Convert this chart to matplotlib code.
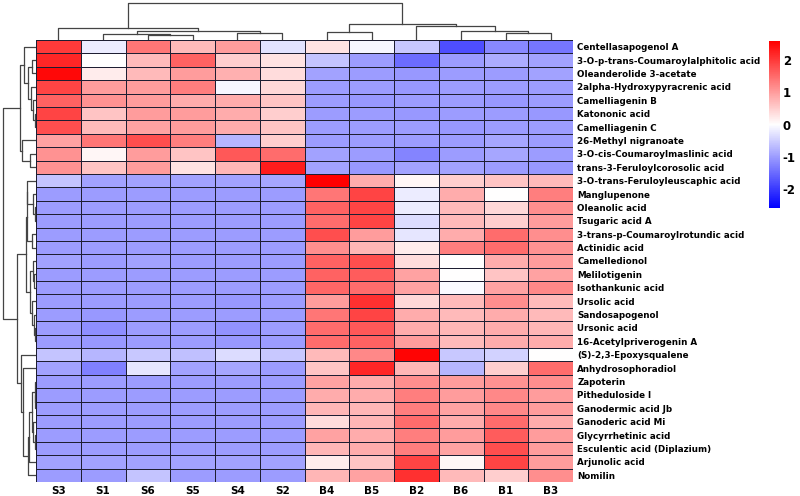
import numpy as np
import matplotlib
matplotlib.use('Agg')
import matplotlib.pyplot as plt

# Sample and compound names (in the clustered display order)
samples = ['S3', 'S1', 'S6', 'S5', 'S4', 'S2', 'B4', 'B5', 'B2', 'B6', 'B1', 'B3']

compounds = [
    'Centellasapogenol A', '3-O-p-trans-Coumaroylalphitolic acid', 'Oleanderolide 3-acetate',
    '2alpha-Hydroxypyracrenic acid', 'Camelliagenin B', 'Katononic acid', 'Camelliagenin C',
    '26-Methyl nigranoate', '3-O-cis-Coumaroylmaslinic acid', 'trans-3-Feruloylcorosolic acid',
    '3-O-trans-Feruloyleuscaphic acid', 'Manglupenone', 'Oleanolic acid', 'Tsugaric acid A',
    '3-trans-p-Coumaroylrotundic acid', 'Actinidic acid', 'Camelledionol', 'Melilotigenin',
    'Isothankunic acid', 'Ursolic acid', 'Sandosapogenol', 'Ursonic acid',
    '16-Acetylpriverogenin A', '(S)-2,3-Epoxysqualene', 'Anhydrosophoradiol', 'Zapoterin',
    'Pitheduloside I', 'Ganodermic acid Jb', 'Ganoderic acid Mi', 'Glycyrrhetinic acid',
    'Esculentic acid (Diplazium)', 'Arjunolic acid', 'Nomilin',
]

# row z-scores, columns follow `samples`
zscores = [
    [2.0, -0.2, 1.4, 0.7, 1.0, -0.3, 0.3, -0.1, -0.55, -1.8, -1.2, -1.4],
    [2.2, 0.0, 0.7, 1.6, 0.5, 0.3, -0.6, -1.0, -1.5, -1.0, -0.85, -0.95],
    [2.5, 0.2, 0.7, 1.0, 0.8, 0.35, -0.95, -1.0, -1.05, -1.0, -1.0, -0.95],
    [1.9, 1.0, 1.0, 1.3, -0.1, 0.4, -1.0, -1.0, -1.05, -1.0, -1.0, -1.0],
    [1.6, 1.1, 1.0, 0.85, 0.85, 0.6, -1.0, -1.05, -1.0, -1.0, -1.05, -1.0],
    [1.9, 0.6, 1.0, 1.0, 0.85, 0.5, -1.0, -1.0, -1.05, -1.0, -1.0, -1.05],
    [1.8, 0.7, 0.95, 1.0, 0.85, 0.6, -1.0, -1.0, -1.0, -1.05, -1.0, -1.0],
    [0.95, 1.4, 1.8, 1.3, -0.75, 0.5, -1.0, -1.0, -1.0, -1.0, -0.9, -1.0],
    [1.1, 0.1, 1.0, 0.6, 1.7, 1.5, -0.95, -1.0, -1.25, -1.0, -0.9, -1.0],
    [1.1, 0.6, 1.0, 0.3, 0.75, 2.3, -0.95, -1.05, -0.95, -0.95, -1.0, -1.05],
    [-0.6, -0.95, -0.95, -0.95, -0.95, -0.9, 2.6, 0.85, 0.1, 0.5, 0.6, 0.7],
    [-1.0, -1.0, -1.0, -1.0, -1.0, -1.0, 1.4, 1.9, -0.2, 0.85, 0.0, 1.3],
    [-1.0, -1.0, -1.0, -1.0, -1.0, -1.0, 1.6, 1.9, -0.2, 0.7, 0.4, 1.15],
    [-1.0, -1.0, -1.0, -1.0, -1.0, -1.0, 1.5, 1.9, -0.35, 0.7, 0.5, 1.0],
    [-1.0, -1.0, -1.0, -1.0, -1.0, -1.0, 1.8, 1.0, -0.25, 0.85, 1.5, 1.15],
    [-1.0, -1.0, -1.0, -1.0, -1.0, -1.0, 1.15, 0.75, 0.2, 1.3, 1.5, 1.1],
    [-0.95, -1.0, -0.95, -1.0, -1.0, -1.0, 1.6, 1.8, 0.35, 0.0, 0.85, 1.0],
    [-1.0, -1.0, -1.0, -1.0, -1.0, -1.0, 1.6, 1.65, 0.95, 0.02, 0.6, 0.95],
    [-1.0, -1.0, -1.0, -1.0, -1.0, -1.0, 1.55, 1.5, 0.95, -0.05, 0.95, 1.2],
    [-1.0, -1.0, -1.0, -1.0, -1.05, -1.0, 1.0, 2.1, 0.4, 0.7, 1.15, 0.7],
    [-1.0, -1.05, -1.0, -1.0, -1.0, -1.0, 1.4, 1.9, 0.85, 0.7, 0.85, 0.7],
    [-1.0, -1.15, -1.0, -1.0, -1.1, -1.0, 1.5, 1.7, 0.85, 0.75, 0.85, 0.75],
    [-1.0, -1.05, -1.0, -1.0, -1.05, -1.0, 1.5, 1.6, 1.0, 0.7, 0.85, 0.85],
    [-0.6, -0.75, -0.55, -0.65, -0.35, -0.55, 0.7, 1.2, 2.55, -0.55, -0.45, 0.0],
    [-0.95, -1.3, -0.25, -0.95, -0.9, -1.0, 0.6, 2.2, 0.75, -0.75, 0.5, 1.5],
    [-1.0, -1.0, -1.0, -1.0, -1.0, -1.0, 0.95, 0.85, 1.15, 1.0, 1.1, 1.15],
    [-1.0, -1.0, -1.0, -1.0, -1.0, -1.0, 0.85, 0.85, 1.3, 1.0, 1.2, 1.0],
    [-1.0, -1.0, -1.0, -1.0, -1.0, -1.0, 0.75, 0.75, 1.3, 0.95, 1.2, 1.0],
    [-1.0, -1.0, -1.0, -1.0, -1.0, -1.0, 0.35, 0.75, 1.5, 0.85, 1.5, 0.85],
    [-1.0, -1.0, -1.0, -1.0, -1.0, -1.0, 0.95, 0.85, 1.3, 1.0, 1.65, 1.0],
    [-1.0, -1.0, -1.0, -1.0, -1.0, -1.0, 0.75, 0.85, 1.3, 0.95, 1.8, 1.0],
    [-0.95, -0.95, -0.95, -0.95, -0.95, -0.95, 0.2, 0.6, 1.9, 0.1, 1.9, 1.0],
    [-1.0, -1.0, -0.6, -1.0, -1.0, -1.0, 0.75, 0.95, 2.1, 0.7, 0.5, 1.15],
]
cbar_ticks = [-2, -1, 0, 1, 2]

data = np.array(zscores)
n_rows, n_cols = data.shape


def ordered_linkage(X):
    # complete linkage, only neighbours in display order may merge (keeps tree planar)
    D = np.sqrt(((X[:, None, :] - X[None, :, :]) ** 2).sum(-1))
    clusters = [dict(members=[i], pos=i + 0.5, h=0.0) for i in range(len(X))]
    links = []
    while len(clusters) > 1:
        best, bi = None, 0
        for i in range(len(clusters) - 1):
            a, b = clusters[i]['members'], clusters[i + 1]['members']
            d = D[np.ix_(a, b)].max()
            if best is None or d < best:
                best, bi = d, i
        a, b = clusters[bi], clusters[bi + 1]
        h = max(best, a['h'], b['h'])
        links.append((a['pos'], a['h'], b['pos'], b['h'], h))
        clusters[bi:bi + 2] = [dict(members=a['members'] + b['members'],
                                    pos=(a['pos'] + b['pos']) / 2, h=h)]
    return links, clusters[0]['h']


fig = plt.figure(figsize=(8, 4.96), dpi=100)
W, H = 800, 496


def px_axes(x0, y0, x1, y1):
    return fig.add_axes([x0 / W, 1 - y1 / H, (x1 - x0) / W, (y1 - y0) / H])


hm_l, hm_r, hm_t, hm_b = 36, 573, 40, 482

# heatmap
ax = px_axes(hm_l, hm_t, hm_r, hm_b)
mesh = ax.pcolormesh(data, cmap='bwr', vmin=-2.6, vmax=2.6,
                     edgecolors='#1e1e32', linewidth=0.7)
ax.set_xlim(0, n_cols)
ax.set_ylim(n_rows, 0)
ax.set_xticks(np.arange(n_cols) + 0.5)
ax.set_xticklabels(samples, fontsize=7.5, fontweight='bold')
ax.yaxis.tick_right()
ax.set_yticks(np.arange(n_rows) + 0.5)
ax.set_yticklabels(compounds, fontsize=6.3, fontweight='bold')
ax.tick_params(length=0, pad=3)
for s in ax.spines.values():
    s.set_visible(False)

# column dendrogram
axc = px_axes(hm_l, 0, hm_r, hm_t)
links, top = ordered_linkage(data.T)
for x1, h1, x2, h2, h in links:
    axc.plot([x1, x1, x2, x2], [h1, h, h, h2], color='#444444', lw=0.9)
axc.set_xlim(0, n_cols)
axc.set_ylim(0, top * 1.08)
axc.axis('off')

# row dendrogram
axr = px_axes(0, hm_t, hm_l, hm_b)
links, top = ordered_linkage(data)
for y1, h1, y2, h2, h in links:
    axr.plot([h1, h, h, h2], [y1, y1, y2, y2], color='#444444', lw=0.9)
axr.set_ylim(n_rows, 0)
axr.set_xlim(top * 1.08, 0)
axr.axis('off')

# colorbar
cax = px_axes(769, 41, 780, 208)
cb = fig.colorbar(mesh, cax=cax, ticks=cbar_ticks)
cb.outline.set_visible(False)
cb.ax.set_yticklabels([str(t) for t in cbar_ticks], fontsize=8.5, fontweight='bold')
cb.ax.tick_params(length=0, pad=2)

fig.savefig('out.png', dpi=100)
